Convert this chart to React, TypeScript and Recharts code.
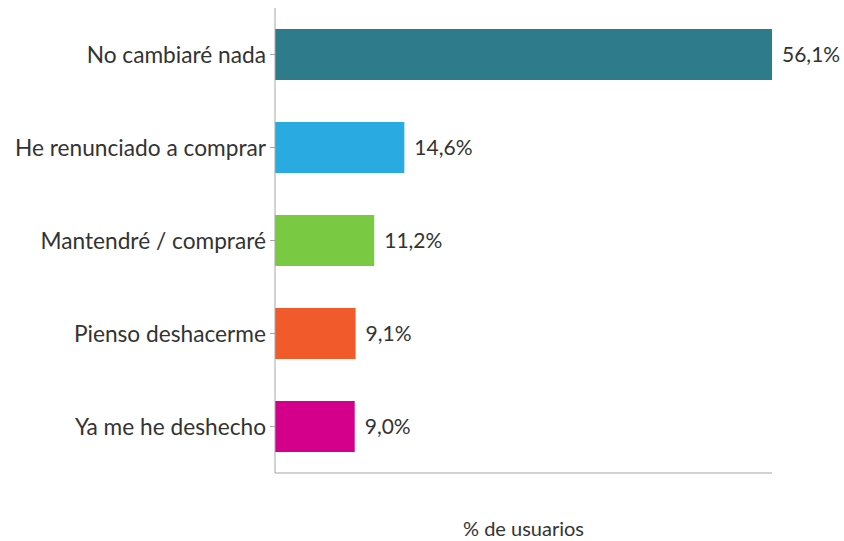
import { Bar, BarChart, Cell, LabelList, XAxis, YAxis } from "recharts";

const categories = [
  "No cambiaré nada",
  "He renunciado a comprar",
  "Mantendré / compraré",
  "Pienso deshacerme",
  "Ya me he deshecho",
];
const values = [56.1, 14.6, 11.2, 9.1, 9.0];
const colors = ["#2E7B8B", "#29ABE2", "#7AC943", "#F15A2B", "#D4008C"];

const data = categories.map((name, i) => ({ name, value: values[i] }));

const fmt = (v: number) => v.toFixed(1).replace(".", ",") + "%";

export default function App() {
  return (
    <div style={{ position: "absolute", left: 0, top: 0, fontFamily: "Lato" }}>
      <BarChart
        width={844}
        height={541}
        data={data}
        layout="vertical"
        margin={{ top: 8, right: 72, bottom: 0, left: 0 }}
        barSize={51}
      >
        <XAxis
          type="number"
          domain={[0, 56.1]}
          tick={false}
          tickLine={false}
          height={68}
          stroke="#a6a6a6"
          label={{
            value: "% de usuarios",
            position: "insideBottom",
            offset: 5,
            fill: "#333",
            fontSize: 20,
          }}
        />
        <YAxis
          type="category"
          dataKey="name"
          width={275}
          stroke="#a6a6a6"
          tickSize={5}
          tickMargin={4}
          tick={{ fill: "#333", fontSize: 22.7 }}
        />
        <Bar dataKey="value" isAnimationActive={false}>
          {data.map((d, i) => (
            <Cell key={d.name} fill={colors[i]} />
          ))}
          <LabelList
            dataKey="value"
            position="right"
            offset={10}
            formatter={(v: any) => fmt(Number(v))}
            style={{ fill: "#333", fontSize: 21 }}
          />
        </Bar>
      </BarChart>
    </div>
  );
}
